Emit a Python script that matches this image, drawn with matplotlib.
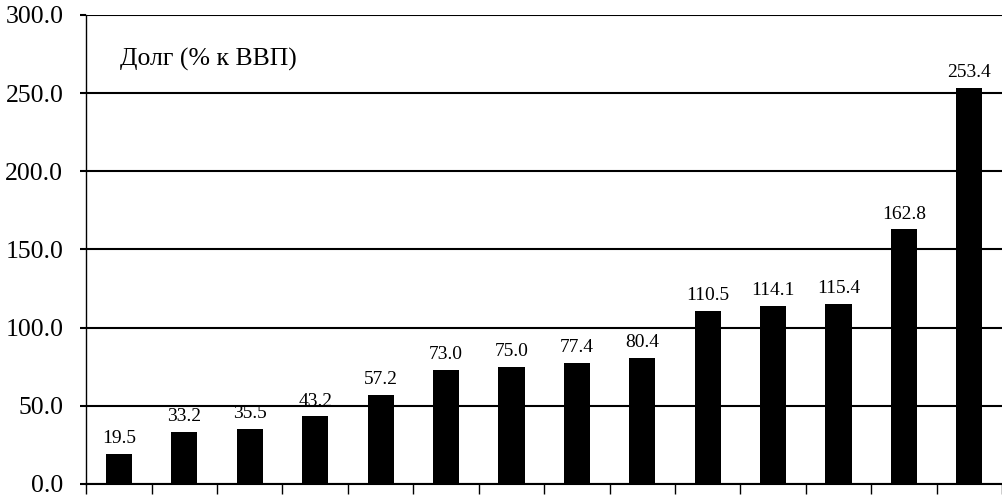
import matplotlib
matplotlib.use("Agg")
import matplotlib.pyplot as plt
import numpy as np
from matplotlib.ticker import FormatStrFormatter

plt.rcParams["font.family"] = ["Liberation Serif", "DejaVu Serif"]

# --- data ---
debt = [19.5, 33.2, 35.5, 43.2, 57.2, 73.0, 75.0, 77.4, 80.4,
        110.5, 114.1, 115.4, 162.8, 253.4]
y_ticks = [0, 50, 100, 150, 200, 250, 300]
title = "Долг (% к ВВП)"

fig = plt.figure(figsize=(10.03, 5.0), dpi=100)
ax = fig.add_axes([0.086, 0.032, 0.913, 0.938])

x = np.arange(len(debt))
ax.set_axisbelow(True)
ax.bar(x, debt, width=0.4, color="black", zorder=3)

for xi, v in zip(x, debt):
    ax.annotate(f"{v:.1f}", (xi, v), xytext=(0, 5), textcoords="offset points",
                ha="center", va="bottom", fontsize=14)

ax.set_ylim(0, 300)
ax.set_xlim(-0.5, len(debt) - 0.5)
ax.set_yticks(y_ticks)
ax.yaxis.set_major_formatter(FormatStrFormatter("%.1f"))
ax.set_xticks(np.arange(-0.5, len(debt), 1))
ax.set_xticklabels([])
ax.yaxis.grid(True, color="black", lw=1.5)
ax.tick_params(axis="y", direction="out", length=4.5, width=1.5, labelsize=18.5, pad=12)
ax.tick_params(axis="x", direction="out", length=7, width=1)

for s in ["top", "right"]:
    ax.spines[s].set_visible(False)
ax.spines["left"].set_linewidth(1)
ax.spines["bottom"].set_linewidth(1.5)

ax.text(0.037, 0.905, title, transform=ax.transAxes, fontsize=18.5,
        ha="left", va="center")

fig.savefig("out.png", dpi=100, facecolor="white")
